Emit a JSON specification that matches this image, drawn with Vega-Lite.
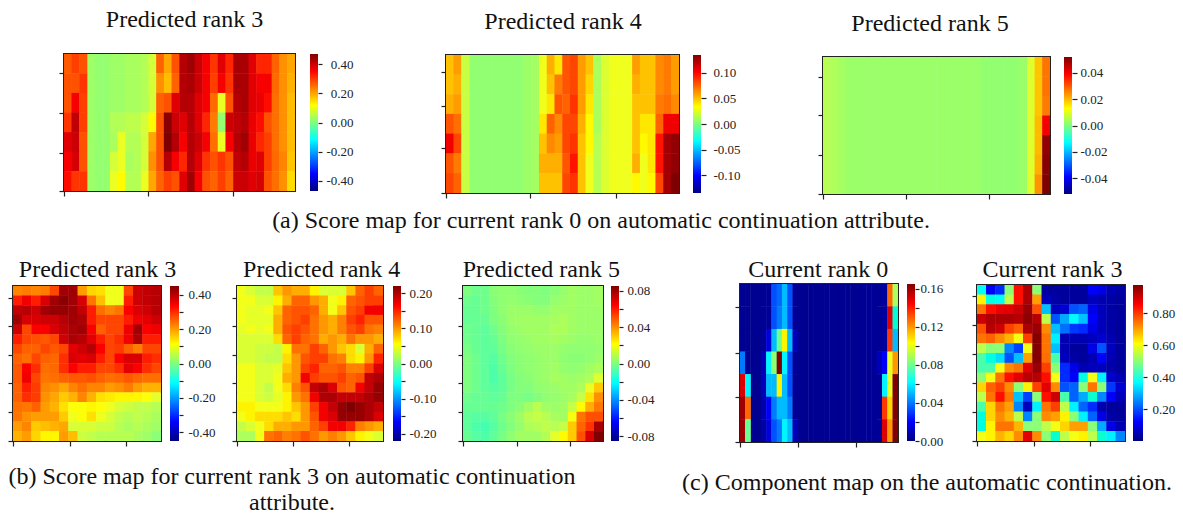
{"$schema":"https://vega.github.io/schema/vega-lite/v6.json","padding":0,"autosize":{"type":"pad"},"background":"white","bounds":"flush","spacing":0,"resolve":{"scale":{"color":"independent"}},"config":{"font":"Liberation Serif","view":{"stroke":null},"concat":{"spacing":0},"title":{"font":"Liberation Serif","fontSize":24,"fontWeight":"normal","color":"#111","baseline":"alphabetic"},"axis":{"labels":false,"grid":false,"domain":false,"title":null,"tickSize":5,"tickColor":"#222","tickWidth":1.2,"labelFont":"Liberation Serif","labelFontSize":13,"labelColor":"#222"}},
"datasets":{
"a1s":[{"x":3,"v":0.03},{"x":4,"v":0.02},{"x":5,"v":0.02}],
"a1":[
{"y":6,"x":0,"v":0.29},{"y":6,"x":1,"v":0.32},{"y":6,"x":2,"v":0.3},{"y":6,"x":6,"v":0.03},{"y":6,"x":7,"v":0.03},{"y":6,"x":8,"v":0.04},{"y":6,"x":9,"v":0.04},{"y":6,"x":10,"v":0.05},{"y":6,"x":11,"v":0.08},{"y":6,"x":12,"v":0.28},{"y":6,"x":13,"v":0.2},{"y":6,"x":14,"v":0.3},{"y":6,"x":15,"v":0.42},{"y":6,"x":16,"v":0.44},{"y":6,"x":17,"v":0.4},{"y":6,"x":18,"v":0.36},{"y":6,"x":19,"v":0.33},{"y":6,"x":20,"v":0.38},{"y":6,"x":21,"v":0.34},{"y":6,"x":22,"v":0.43},{"y":6,"x":23,"v":0.43},{"y":6,"x":24,"v":0.38},{"y":6,"x":25,"v":0.34},{"y":6,"x":26,"v":0.34},{"y":6,"x":27,"v":0.28},{"y":6,"x":28,"v":0.22},{"y":6,"x":29,"v":0.2},
{"y":5,"x":0,"v":0.3},{"y":5,"x":1,"v":0.3},{"y":5,"x":2,"v":0.33},{"y":5,"x":6,"v":0.03},{"y":5,"x":7,"v":0.03},{"y":5,"x":8,"v":0.04},{"y":5,"x":9,"v":0.04},{"y":5,"x":10,"v":0.05},{"y":5,"x":11,"v":0.08},{"y":5,"x":12,"v":0.22},{"y":5,"x":13,"v":0.18},{"y":5,"x":14,"v":0.28},{"y":5,"x":15,"v":0.42},{"y":5,"x":16,"v":0.43},{"y":5,"x":17,"v":0.4},{"y":5,"x":18,"v":0.36},{"y":5,"x":19,"v":0.32},{"y":5,"x":20,"v":0.36},{"y":5,"x":21,"v":0.33},{"y":5,"x":22,"v":0.43},{"y":5,"x":23,"v":0.43},{"y":5,"x":24,"v":0.38},{"y":5,"x":25,"v":0.36},{"y":5,"x":26,"v":0.36},{"y":5,"x":27,"v":0.27},{"y":5,"x":28,"v":0.22},{"y":5,"x":29,"v":0.19},
{"y":4,"x":0,"v":0.3},{"y":4,"x":1,"v":0.36},{"y":4,"x":2,"v":0.32},{"y":4,"x":6,"v":0.03},{"y":4,"x":7,"v":0.03},{"y":4,"x":8,"v":0.04},{"y":4,"x":9,"v":0.04},{"y":4,"x":10,"v":0.05},{"y":4,"x":11,"v":0.08},{"y":4,"x":12,"v":0.28},{"y":4,"x":13,"v":0.3},{"y":4,"x":14,"v":0.38},{"y":4,"x":15,"v":0.42},{"y":4,"x":16,"v":0.42},{"y":4,"x":17,"v":0.38},{"y":4,"x":18,"v":0.36},{"y":4,"x":19,"v":0.27},{"y":4,"x":20,"v":0.1},{"y":4,"x":21,"v":0.3},{"y":4,"x":22,"v":0.42},{"y":4,"x":23,"v":0.43},{"y":4,"x":24,"v":0.38},{"y":4,"x":25,"v":0.37},{"y":4,"x":26,"v":0.35},{"y":4,"x":27,"v":0.26},{"y":4,"x":28,"v":0.22},{"y":4,"x":29,"v":0.18},
{"y":3,"x":0,"v":0.33},{"y":3,"x":1,"v":0.41},{"y":3,"x":2,"v":0.32},{"y":3,"x":6,"v":0.05},{"y":3,"x":7,"v":0.05},{"y":3,"x":8,"v":0.06},{"y":3,"x":9,"v":0.06},{"y":3,"x":10,"v":0.08},{"y":3,"x":11,"v":0.12},{"y":3,"x":12,"v":0.3},{"y":3,"x":13,"v":0.46},{"y":3,"x":14,"v":0.4},{"y":3,"x":15,"v":0.38},{"y":3,"x":16,"v":0.42},{"y":3,"x":17,"v":0.38},{"y":3,"x":18,"v":0.34},{"y":3,"x":19,"v":0.24},{"y":3,"x":20,"v":0.02},{"y":3,"x":21,"v":0.4},{"y":3,"x":22,"v":0.41},{"y":3,"x":23,"v":0.42},{"y":3,"x":24,"v":0.37},{"y":3,"x":25,"v":0.35},{"y":3,"x":26,"v":0.3},{"y":3,"x":27,"v":0.26},{"y":3,"x":28,"v":0.22},{"y":3,"x":29,"v":0.18},
{"y":2,"x":0,"v":0.38},{"y":2,"x":1,"v":0.4},{"y":2,"x":2,"v":0.3},{"y":2,"x":6,"v":0.04},{"y":2,"x":7,"v":0.1},{"y":2,"x":8,"v":0.05},{"y":2,"x":9,"v":0.05},{"y":2,"x":10,"v":0.08},{"y":2,"x":11,"v":0.2},{"y":2,"x":12,"v":0.3},{"y":2,"x":13,"v":0.47},{"y":2,"x":14,"v":0.42},{"y":2,"x":15,"v":0.36},{"y":2,"x":16,"v":0.42},{"y":2,"x":17,"v":0.4},{"y":2,"x":18,"v":0.36},{"y":2,"x":19,"v":0.26},{"y":2,"x":20,"v":0.1},{"y":2,"x":21,"v":0.36},{"y":2,"x":22,"v":0.42},{"y":2,"x":23,"v":0.44},{"y":2,"x":24,"v":0.37},{"y":2,"x":25,"v":0.34},{"y":2,"x":26,"v":0.32},{"y":2,"x":27,"v":0.26},{"y":2,"x":28,"v":0.22},{"y":2,"x":29,"v":0.18},
{"y":1,"x":0,"v":0.36},{"y":1,"x":1,"v":0.39},{"y":1,"x":2,"v":0.3},{"y":1,"x":6,"v":0.08},{"y":1,"x":7,"v":0.1},{"y":1,"x":8,"v":0.04},{"y":1,"x":9,"v":0.05},{"y":1,"x":10,"v":0.08},{"y":1,"x":11,"v":0.22},{"y":1,"x":12,"v":0.3},{"y":1,"x":13,"v":0.42},{"y":1,"x":14,"v":0.36},{"y":1,"x":15,"v":0.34},{"y":1,"x":16,"v":0.42},{"y":1,"x":17,"v":0.38},{"y":1,"x":18,"v":0.33},{"y":1,"x":19,"v":0.3},{"y":1,"x":20,"v":0.33},{"y":1,"x":21,"v":0.3},{"y":1,"x":22,"v":0.41},{"y":1,"x":23,"v":0.42},{"y":1,"x":24,"v":0.37},{"y":1,"x":25,"v":0.38},{"y":1,"x":26,"v":0.32},{"y":1,"x":27,"v":0.27},{"y":1,"x":28,"v":0.23},{"y":1,"x":29,"v":0.17},
{"y":0,"x":0,"v":0.35},{"y":0,"x":1,"v":0.33},{"y":0,"x":2,"v":0.33},{"y":0,"x":6,"v":0.1},{"y":0,"x":7,"v":0.12},{"y":0,"x":8,"v":0.05},{"y":0,"x":9,"v":0.05},{"y":0,"x":10,"v":0.1},{"y":0,"x":11,"v":0.2},{"y":0,"x":12,"v":0.28},{"y":0,"x":13,"v":0.32},{"y":0,"x":14,"v":0.3},{"y":0,"x":15,"v":0.38},{"y":0,"x":16,"v":0.44},{"y":0,"x":17,"v":0.36},{"y":0,"x":18,"v":0.3},{"y":0,"x":19,"v":0.28},{"y":0,"x":20,"v":0.32},{"y":0,"x":21,"v":0.28},{"y":0,"x":22,"v":0.4},{"y":0,"x":23,"v":0.4},{"y":0,"x":24,"v":0.38},{"y":0,"x":25,"v":0.39},{"y":0,"x":26,"v":0.3},{"y":0,"x":27,"v":0.26},{"y":0,"x":28,"v":0.22},{"y":0,"x":29,"v":0.15}],
"a2s":[{"x":3,"v":0.005},{"x":4,"v":0.005},{"x":5,"v":0.005},{"x":6,"v":0.005},{"x":7,"v":0.005},{"x":8,"v":0.005},{"x":9,"v":0.005},{"x":10,"v":0.008},{"x":11,"v":0.01}],
"a2":[
{"y":6,"x":0,"v":0.05},{"y":6,"x":1,"v":0.06},{"y":6,"x":2,"v":0.02},{"y":6,"x":12,"v":0.03},{"y":6,"x":13,"v":0.055},{"y":6,"x":14,"v":0.04},{"y":6,"x":15,"v":0.085},{"y":6,"x":16,"v":0.09},{"y":6,"x":17,"v":0.06},{"y":6,"x":18,"v":0.05},{"y":6,"x":19,"v":0.012},{"y":6,"x":20,"v":0.025},{"y":6,"x":21,"v":0.03},{"y":6,"x":22,"v":0.03},{"y":6,"x":23,"v":0.03},{"y":6,"x":24,"v":0.06},{"y":6,"x":25,"v":0.05},{"y":6,"x":26,"v":0.05},{"y":6,"x":27,"v":0.065},{"y":6,"x":28,"v":0.07},{"y":6,"x":29,"v":0.06},
{"y":5,"x":0,"v":0.05},{"y":5,"x":1,"v":0.055},{"y":5,"x":2,"v":0.02},{"y":5,"x":12,"v":0.03},{"y":5,"x":13,"v":0.05},{"y":5,"x":14,"v":0.07},{"y":5,"x":15,"v":0.085},{"y":5,"x":16,"v":0.09},{"y":5,"x":17,"v":0.06},{"y":5,"x":18,"v":0.045},{"y":5,"x":19,"v":0.012},{"y":5,"x":20,"v":0.025},{"y":5,"x":21,"v":0.03},{"y":5,"x":22,"v":0.03},{"y":5,"x":23,"v":0.03},{"y":5,"x":24,"v":0.055},{"y":5,"x":25,"v":0.05},{"y":5,"x":26,"v":0.05},{"y":5,"x":27,"v":0.065},{"y":5,"x":28,"v":0.07},{"y":5,"x":29,"v":0.06},
{"y":4,"x":0,"v":0.055},{"y":4,"x":1,"v":0.06},{"y":4,"x":2,"v":0.02},{"y":4,"x":12,"v":0.03},{"y":4,"x":13,"v":0.04},{"y":4,"x":14,"v":0.085},{"y":4,"x":15,"v":0.08},{"y":4,"x":16,"v":0.095},{"y":4,"x":17,"v":0.06},{"y":4,"x":18,"v":0.04},{"y":4,"x":19,"v":0.012},{"y":4,"x":20,"v":0.025},{"y":4,"x":21,"v":0.03},{"y":4,"x":22,"v":0.03},{"y":4,"x":23,"v":0.03},{"y":4,"x":24,"v":0.05},{"y":4,"x":25,"v":0.05},{"y":4,"x":26,"v":0.05},{"y":4,"x":27,"v":0.07},{"y":4,"x":28,"v":0.075},{"y":4,"x":29,"v":0.065},
{"y":3,"x":0,"v":0.085},{"y":3,"x":1,"v":0.075},{"y":3,"x":2,"v":0.02},{"y":3,"x":12,"v":0.04},{"y":3,"x":13,"v":0.08},{"y":3,"x":14,"v":0.065},{"y":3,"x":15,"v":0.09},{"y":3,"x":16,"v":0.09},{"y":3,"x":17,"v":0.055},{"y":3,"x":18,"v":0.035},{"y":3,"x":19,"v":0.012},{"y":3,"x":20,"v":0.025},{"y":3,"x":21,"v":0.03},{"y":3,"x":22,"v":0.03},{"y":3,"x":23,"v":0.03},{"y":3,"x":24,"v":0.05},{"y":3,"x":25,"v":0.04},{"y":3,"x":26,"v":0.04},{"y":3,"x":27,"v":0.08},{"y":3,"x":28,"v":0.105},{"y":3,"x":29,"v":0.105},
{"y":2,"x":0,"v":0.105},{"y":2,"x":1,"v":0.09},{"y":2,"x":2,"v":0.02},{"y":2,"x":12,"v":0.05},{"y":2,"x":13,"v":0.065},{"y":2,"x":14,"v":0.06},{"y":2,"x":15,"v":0.09},{"y":2,"x":16,"v":0.095},{"y":2,"x":17,"v":0.05},{"y":2,"x":18,"v":0.035},{"y":2,"x":19,"v":0.015},{"y":2,"x":20,"v":0.025},{"y":2,"x":21,"v":0.03},{"y":2,"x":22,"v":0.03},{"y":2,"x":23,"v":0.03},{"y":2,"x":24,"v":0.05},{"y":2,"x":25,"v":0.035},{"y":2,"x":26,"v":0.04},{"y":2,"x":27,"v":0.1},{"y":2,"x":28,"v":0.125},{"y":2,"x":29,"v":0.13},
{"y":1,"x":0,"v":0.085},{"y":1,"x":1,"v":0.07},{"y":1,"x":2,"v":0.02},{"y":1,"x":12,"v":0.055},{"y":1,"x":13,"v":0.055},{"y":1,"x":14,"v":0.055},{"y":1,"x":15,"v":0.085},{"y":1,"x":16,"v":0.1},{"y":1,"x":17,"v":0.05},{"y":1,"x":18,"v":0.03},{"y":1,"x":19,"v":0.015},{"y":1,"x":20,"v":0.025},{"y":1,"x":21,"v":0.03},{"y":1,"x":22,"v":0.03},{"y":1,"x":23,"v":0.03},{"y":1,"x":24,"v":0.055},{"y":1,"x":25,"v":0.03},{"y":1,"x":26,"v":0.04},{"y":1,"x":27,"v":0.1},{"y":1,"x":28,"v":0.125},{"y":1,"x":29,"v":0.13},
{"y":0,"x":0,"v":0.09},{"y":0,"x":1,"v":0.08},{"y":0,"x":2,"v":0.02},{"y":0,"x":12,"v":0.05},{"y":0,"x":13,"v":0.05},{"y":0,"x":14,"v":0.05},{"y":0,"x":15,"v":0.09},{"y":0,"x":16,"v":0.095},{"y":0,"x":17,"v":0.05},{"y":0,"x":18,"v":0.03},{"y":0,"x":19,"v":0.015},{"y":0,"x":20,"v":0.025},{"y":0,"x":21,"v":0.03},{"y":0,"x":22,"v":0.03},{"y":0,"x":23,"v":0.03},{"y":0,"x":24,"v":0.035},{"y":0,"x":25,"v":0.03},{"y":0,"x":26,"v":0.035},{"y":0,"x":27,"v":0.09},{"y":0,"x":28,"v":0.125},{"y":0,"x":29,"v":0.135}],
"a3s":[{"x":0,"v":0.006},{"x":1,"v":0.005},{"x":2,"v":0.004},{"x":3,"v":0.003},{"x":4,"v":0.003},{"x":5,"v":0.003},{"x":6,"v":0.003},{"x":7,"v":0.003},{"x":8,"v":0.003},{"x":9,"v":0.003},{"x":10,"v":0.003},{"x":11,"v":0.003},{"x":12,"v":0.003},{"x":13,"v":0.003},{"x":14,"v":0.003},{"x":15,"v":0.003},{"x":16,"v":0.003},{"x":17,"v":0.003},{"x":18,"v":0.003},{"x":19,"v":0.003},{"x":20,"v":0.003},{"x":21,"v":0.002},{"x":22,"v":0.002},{"x":23,"v":0.002},{"x":24,"v":0.002},{"x":25,"v":0.002},{"x":26,"v":0.003},{"x":27,"v":0.01}],
"a3":[{"y":6,"x":28,"v":0.019},{"y":6,"x":29,"v":0.028},{"y":5,"x":28,"v":0.019},{"y":5,"x":29,"v":0.028},{"y":4,"x":28,"v":0.019},{"y":4,"x":29,"v":0.027},{"y":3,"x":28,"v":0.02},{"y":3,"x":29,"v":0.04},{"y":2,"x":28,"v":0.02},{"y":2,"x":29,"v":0.05},{"y":1,"x":28,"v":0.021},{"y":1,"x":29,"v":0.051},{"y":0,"x":28,"v":0.024},{"y":0,"x":29,"v":0.052}],
"b1":[
{"y":15,"x":0,"v":0.22},{"y":15,"x":1,"v":0.23},{"y":15,"x":2,"v":0.22},{"y":15,"x":3,"v":0.23},{"y":15,"x":4,"v":0.3},{"y":15,"x":5,"v":0.42},{"y":15,"x":6,"v":0.42},{"y":15,"x":7,"v":0.2},{"y":15,"x":8,"v":0.15},{"y":15,"x":9,"v":0.14},{"y":15,"x":10,"v":0.1},{"y":15,"x":11,"v":0.1},{"y":15,"x":12,"v":0.3},{"y":15,"x":13,"v":0.38},{"y":15,"x":14,"v":0.39},{"y":15,"x":15,"v":0.4},
{"y":14,"x":0,"v":0.33},{"y":14,"x":1,"v":0.35},{"y":14,"x":2,"v":0.33},{"y":14,"x":3,"v":0.37},{"y":14,"x":4,"v":0.42},{"y":14,"x":5,"v":0.44},{"y":14,"x":6,"v":0.42},{"y":14,"x":7,"v":0.37},{"y":14,"x":8,"v":0.24},{"y":14,"x":9,"v":0.17},{"y":14,"x":10,"v":0.1},{"y":14,"x":11,"v":0.1},{"y":14,"x":12,"v":0.33},{"y":14,"x":13,"v":0.38},{"y":14,"x":14,"v":0.39},{"y":14,"x":15,"v":0.4},
{"y":13,"x":0,"v":0.39},{"y":13,"x":1,"v":0.4},{"y":13,"x":2,"v":0.38},{"y":13,"x":3,"v":0.42},{"y":13,"x":4,"v":0.43},{"y":13,"x":5,"v":0.43},{"y":13,"x":6,"v":0.42},{"y":13,"x":7,"v":0.39},{"y":13,"x":8,"v":0.33},{"y":13,"x":9,"v":0.25},{"y":13,"x":10,"v":0.22},{"y":13,"x":11,"v":0.24},{"y":13,"x":12,"v":0.34},{"y":13,"x":13,"v":0.37},{"y":13,"x":14,"v":0.38},{"y":13,"x":15,"v":0.4},
{"y":12,"x":0,"v":0.42},{"y":12,"x":1,"v":0.37},{"y":12,"x":2,"v":0.37},{"y":12,"x":3,"v":0.38},{"y":12,"x":4,"v":0.38},{"y":12,"x":5,"v":0.4},{"y":12,"x":6,"v":0.42},{"y":12,"x":7,"v":0.41},{"y":12,"x":8,"v":0.33},{"y":12,"x":9,"v":0.3},{"y":12,"x":10,"v":0.3},{"y":12,"x":11,"v":0.3},{"y":12,"x":12,"v":0.33},{"y":12,"x":13,"v":0.35},{"y":12,"x":14,"v":0.36},{"y":12,"x":15,"v":0.38},
{"y":11,"x":0,"v":0.38},{"y":11,"x":1,"v":0.3},{"y":11,"x":2,"v":0.34},{"y":11,"x":3,"v":0.34},{"y":11,"x":4,"v":0.37},{"y":11,"x":5,"v":0.39},{"y":11,"x":6,"v":0.41},{"y":11,"x":7,"v":0.42},{"y":11,"x":8,"v":0.34},{"y":11,"x":9,"v":0.27},{"y":11,"x":10,"v":0.3},{"y":11,"x":11,"v":0.3},{"y":11,"x":12,"v":0.35},{"y":11,"x":13,"v":0.42},{"y":11,"x":14,"v":0.34},{"y":11,"x":15,"v":0.35},
{"y":10,"x":0,"v":0.33},{"y":10,"x":1,"v":0.3},{"y":10,"x":2,"v":0.29},{"y":10,"x":3,"v":0.28},{"y":10,"x":4,"v":0.3},{"y":10,"x":5,"v":0.38},{"y":10,"x":6,"v":0.41},{"y":10,"x":7,"v":0.4},{"y":10,"x":8,"v":0.36},{"y":10,"x":9,"v":0.33},{"y":10,"x":10,"v":0.3},{"y":10,"x":11,"v":0.32},{"y":10,"x":12,"v":0.35},{"y":10,"x":13,"v":0.41},{"y":10,"x":14,"v":0.33},{"y":10,"x":15,"v":0.33},
{"y":9,"x":0,"v":0.3},{"y":9,"x":1,"v":0.27},{"y":9,"x":2,"v":0.27},{"y":9,"x":3,"v":0.3},{"y":9,"x":4,"v":0.28},{"y":9,"x":5,"v":0.3},{"y":9,"x":6,"v":0.36},{"y":9,"x":7,"v":0.38},{"y":9,"x":8,"v":0.4},{"y":9,"x":9,"v":0.34},{"y":9,"x":10,"v":0.3},{"y":9,"x":11,"v":0.31},{"y":9,"x":12,"v":0.27},{"y":9,"x":13,"v":0.23},{"y":9,"x":14,"v":0.3},{"y":9,"x":15,"v":0.3},
{"y":8,"x":0,"v":0.27},{"y":8,"x":1,"v":0.25},{"y":8,"x":2,"v":0.3},{"y":8,"x":3,"v":0.27},{"y":8,"x":4,"v":0.26},{"y":8,"x":5,"v":0.32},{"y":8,"x":6,"v":0.37},{"y":8,"x":7,"v":0.36},{"y":8,"x":8,"v":0.37},{"y":8,"x":9,"v":0.33},{"y":8,"x":10,"v":0.3},{"y":8,"x":11,"v":0.34},{"y":8,"x":12,"v":0.37},{"y":8,"x":13,"v":0.37},{"y":8,"x":14,"v":0.33},{"y":8,"x":15,"v":0.32},
{"y":7,"x":0,"v":0.28},{"y":7,"x":1,"v":0.34},{"y":7,"x":2,"v":0.32},{"y":7,"x":3,"v":0.25},{"y":7,"x":4,"v":0.26},{"y":7,"x":5,"v":0.32},{"y":7,"x":6,"v":0.34},{"y":7,"x":7,"v":0.33},{"y":7,"x":8,"v":0.33},{"y":7,"x":9,"v":0.3},{"y":7,"x":10,"v":0.3},{"y":7,"x":11,"v":0.32},{"y":7,"x":12,"v":0.36},{"y":7,"x":13,"v":0.34},{"y":7,"x":14,"v":0.32},{"y":7,"x":15,"v":0.3},
{"y":6,"x":0,"v":0.28},{"y":6,"x":1,"v":0.35},{"y":6,"x":2,"v":0.3},{"y":6,"x":3,"v":0.24},{"y":6,"x":4,"v":0.25},{"y":6,"x":5,"v":0.27},{"y":6,"x":6,"v":0.28},{"y":6,"x":7,"v":0.28},{"y":6,"x":8,"v":0.29},{"y":6,"x":9,"v":0.27},{"y":6,"x":10,"v":0.25},{"y":6,"x":11,"v":0.26},{"y":6,"x":12,"v":0.28},{"y":6,"x":13,"v":0.26},{"y":6,"x":14,"v":0.25},{"y":6,"x":15,"v":0.25},
{"y":5,"x":0,"v":0.27},{"y":5,"x":1,"v":0.33},{"y":5,"x":2,"v":0.31},{"y":5,"x":3,"v":0.22},{"y":5,"x":4,"v":0.21},{"y":5,"x":5,"v":0.19},{"y":5,"x":6,"v":0.22},{"y":5,"x":7,"v":0.25},{"y":5,"x":8,"v":0.22},{"y":5,"x":9,"v":0.22},{"y":5,"x":10,"v":0.2},{"y":5,"x":11,"v":0.21},{"y":5,"x":12,"v":0.23},{"y":5,"x":13,"v":0.2},{"y":5,"x":14,"v":0.18},{"y":5,"x":15,"v":0.18},
{"y":4,"x":0,"v":0.27},{"y":4,"x":1,"v":0.32},{"y":4,"x":2,"v":0.31},{"y":4,"x":3,"v":0.21},{"y":4,"x":4,"v":0.19},{"y":4,"x":5,"v":0.16},{"y":4,"x":6,"v":0.18},{"y":4,"x":7,"v":0.22},{"y":4,"x":8,"v":0.18},{"y":4,"x":9,"v":0.14},{"y":4,"x":10,"v":0.13},{"y":4,"x":11,"v":0.12},{"y":4,"x":12,"v":0.12},{"y":4,"x":13,"v":0.12},{"y":4,"x":14,"v":0.11},{"y":4,"x":15,"v":0.09},
{"y":3,"x":0,"v":0.25},{"y":3,"x":1,"v":0.24},{"y":3,"x":2,"v":0.27},{"y":3,"x":3,"v":0.2},{"y":3,"x":4,"v":0.18},{"y":3,"x":5,"v":0.14},{"y":3,"x":6,"v":0.11},{"y":3,"x":7,"v":0.11},{"y":3,"x":8,"v":0.12},{"y":3,"x":9,"v":0.11},{"y":3,"x":10,"v":0.1},{"y":3,"x":11,"v":0.08},{"y":3,"x":12,"v":0.07},{"y":3,"x":13,"v":0.06},{"y":3,"x":14,"v":0.06},{"y":3,"x":15,"v":0.05},
{"y":2,"x":0,"v":0.24},{"y":2,"x":1,"v":0.21},{"y":2,"x":2,"v":0.2},{"y":2,"x":3,"v":0.2},{"y":2,"x":4,"v":0.2},{"y":2,"x":5,"v":0.16},{"y":2,"x":6,"v":0.1},{"y":2,"x":7,"v":0.11},{"y":2,"x":8,"v":0.14},{"y":2,"x":9,"v":0.1},{"y":2,"x":10,"v":0.08},{"y":2,"x":11,"v":0.06},{"y":2,"x":12,"v":0.05},{"y":2,"x":13,"v":0.06},{"y":2,"x":14,"v":0.05},{"y":2,"x":15,"v":0.04},
{"y":1,"x":0,"v":0.2},{"y":1,"x":1,"v":0.22},{"y":1,"x":2,"v":0.16},{"y":1,"x":3,"v":0.17},{"y":1,"x":4,"v":0.18},{"y":1,"x":5,"v":0.19},{"y":1,"x":6,"v":0.08},{"y":1,"x":7,"v":0.08},{"y":1,"x":8,"v":0.08},{"y":1,"x":9,"v":0.07},{"y":1,"x":10,"v":0.07},{"y":1,"x":11,"v":0.05},{"y":1,"x":12,"v":0.04},{"y":1,"x":13,"v":0.05},{"y":1,"x":14,"v":0.04},{"y":1,"x":15,"v":0.03},
{"y":0,"x":0,"v":0.18},{"y":0,"x":1,"v":0.2},{"y":0,"x":2,"v":0.15},{"y":0,"x":3,"v":0.12},{"y":0,"x":4,"v":0.12},{"y":0,"x":5,"v":0.2},{"y":0,"x":6,"v":0.17},{"y":0,"x":7,"v":0.07},{"y":0,"x":8,"v":0.06},{"y":0,"x":9,"v":0.05},{"y":0,"x":10,"v":0.05},{"y":0,"x":11,"v":0.05},{"y":0,"x":12,"v":0.05},{"y":0,"x":13,"v":0.04},{"y":0,"x":14,"v":0.03},{"y":0,"x":15,"v":0.01}],
"b2":[
{"y":15,"x":0,"v":0.05},{"y":15,"x":1,"v":0.04},{"y":15,"x":2,"v":0.03},{"y":15,"x":3,"v":0.03},{"y":15,"x":4,"v":0.08},{"y":15,"x":5,"v":0.1},{"y":15,"x":6,"v":0.09},{"y":15,"x":7,"v":0.09},{"y":15,"x":8,"v":0.06},{"y":15,"x":9,"v":0.04},{"y":15,"x":10,"v":0.04},{"y":15,"x":11,"v":0.04},{"y":15,"x":12,"v":0.08},{"y":15,"x":13,"v":0.13},{"y":15,"x":14,"v":0.15},{"y":15,"x":15,"v":0.13},
{"y":14,"x":0,"v":0.05},{"y":14,"x":1,"v":0.05},{"y":14,"x":2,"v":0.04},{"y":14,"x":3,"v":0.04},{"y":14,"x":4,"v":0.06},{"y":14,"x":5,"v":0.09},{"y":14,"x":6,"v":0.13},{"y":14,"x":7,"v":0.13},{"y":14,"x":8,"v":0.1},{"y":14,"x":9,"v":0.09},{"y":14,"x":10,"v":0.05},{"y":14,"x":11,"v":0.06},{"y":14,"x":12,"v":0.13},{"y":14,"x":13,"v":0.14},{"y":14,"x":14,"v":0.15},{"y":14,"x":15,"v":0.15},
{"y":13,"x":0,"v":0.05},{"y":13,"x":1,"v":0.045},{"y":13,"x":2,"v":0.045},{"y":13,"x":3,"v":0.05},{"y":13,"x":4,"v":0.08},{"y":13,"x":5,"v":0.13},{"y":13,"x":6,"v":0.14},{"y":13,"x":7,"v":0.14},{"y":13,"x":8,"v":0.13},{"y":13,"x":9,"v":0.09},{"y":13,"x":10,"v":0.05},{"y":13,"x":11,"v":0.08},{"y":13,"x":12,"v":0.14},{"y":13,"x":13,"v":0.15},{"y":13,"x":14,"v":0.17},{"y":13,"x":15,"v":0.17},
{"y":12,"x":0,"v":0.05},{"y":12,"x":1,"v":0.045},{"y":12,"x":2,"v":0.045},{"y":12,"x":3,"v":0.045},{"y":12,"x":4,"v":0.09},{"y":12,"x":5,"v":0.13},{"y":12,"x":6,"v":0.14},{"y":12,"x":7,"v":0.15},{"y":12,"x":8,"v":0.12},{"y":12,"x":9,"v":0.1},{"y":12,"x":10,"v":0.09},{"y":12,"x":11,"v":0.11},{"y":12,"x":12,"v":0.15},{"y":12,"x":13,"v":0.16},{"y":12,"x":14,"v":0.14},{"y":12,"x":15,"v":0.14},
{"y":11,"x":0,"v":0.045},{"y":11,"x":1,"v":0.05},{"y":11,"x":2,"v":0.045},{"y":11,"x":3,"v":0.05},{"y":11,"x":4,"v":0.09},{"y":11,"x":5,"v":0.14},{"y":11,"x":6,"v":0.15},{"y":11,"x":7,"v":0.14},{"y":11,"x":8,"v":0.12},{"y":11,"x":9,"v":0.1},{"y":11,"x":10,"v":0.09},{"y":11,"x":11,"v":0.11},{"y":11,"x":12,"v":0.14},{"y":11,"x":13,"v":0.15},{"y":11,"x":14,"v":0.12},{"y":11,"x":15,"v":0.11},
{"y":10,"x":0,"v":0.04},{"y":10,"x":1,"v":0.04},{"y":10,"x":2,"v":0.04},{"y":10,"x":3,"v":0.04},{"y":10,"x":4,"v":0.07},{"y":10,"x":5,"v":0.13},{"y":10,"x":6,"v":0.15},{"y":10,"x":7,"v":0.13},{"y":10,"x":8,"v":0.12},{"y":10,"x":9,"v":0.09},{"y":10,"x":10,"v":0.1},{"y":10,"x":11,"v":0.09},{"y":10,"x":12,"v":0.12},{"y":10,"x":13,"v":0.1},{"y":10,"x":14,"v":0.1},{"y":10,"x":15,"v":0.09},
{"y":9,"x":0,"v":0.04},{"y":9,"x":1,"v":0.04},{"y":9,"x":2,"v":0.035},{"y":9,"x":3,"v":0.035},{"y":9,"x":4,"v":0.03},{"y":9,"x":5,"v":0.06},{"y":9,"x":6,"v":0.12},{"y":9,"x":7,"v":0.12},{"y":9,"x":8,"v":0.15},{"y":9,"x":9,"v":0.13},{"y":9,"x":10,"v":0.1},{"y":9,"x":11,"v":0.08},{"y":9,"x":12,"v":0.07},{"y":9,"x":13,"v":0.04},{"y":9,"x":14,"v":0.09},{"y":9,"x":15,"v":0.13},
{"y":8,"x":0,"v":0.04},{"y":8,"x":1,"v":0.04},{"y":8,"x":2,"v":0.035},{"y":8,"x":3,"v":0.03},{"y":8,"x":4,"v":0.03},{"y":8,"x":5,"v":0.07},{"y":8,"x":6,"v":0.1},{"y":8,"x":7,"v":0.14},{"y":8,"x":8,"v":0.15},{"y":8,"x":9,"v":0.15},{"y":8,"x":10,"v":0.12},{"y":8,"x":11,"v":0.11},{"y":8,"x":12,"v":0.07},{"y":8,"x":13,"v":0.06},{"y":8,"x":14,"v":0.1},{"y":8,"x":15,"v":0.16},
{"y":7,"x":0,"v":0.05},{"y":7,"x":1,"v":0.05},{"y":7,"x":2,"v":0.04},{"y":7,"x":3,"v":0.04},{"y":7,"x":4,"v":0.045},{"y":7,"x":5,"v":0.08},{"y":7,"x":6,"v":0.1},{"y":7,"x":7,"v":0.15},{"y":7,"x":8,"v":0.16},{"y":7,"x":9,"v":0.13},{"y":7,"x":10,"v":0.13},{"y":7,"x":11,"v":0.14},{"y":7,"x":12,"v":0.11},{"y":7,"x":13,"v":0.11},{"y":7,"x":14,"v":0.15},{"y":7,"x":15,"v":0.18},
{"y":6,"x":0,"v":0.05},{"y":6,"x":1,"v":0.05},{"y":6,"x":2,"v":0.04},{"y":6,"x":3,"v":0.04},{"y":6,"x":4,"v":0.05},{"y":6,"x":5,"v":0.09},{"y":6,"x":6,"v":0.1},{"y":6,"x":7,"v":0.17},{"y":6,"x":8,"v":0.15},{"y":6,"x":9,"v":0.14},{"y":6,"x":10,"v":0.14},{"y":6,"x":11,"v":0.15},{"y":6,"x":12,"v":0.13},{"y":6,"x":13,"v":0.14},{"y":6,"x":14,"v":0.19},{"y":6,"x":15,"v":0.2},
{"y":5,"x":0,"v":0.05},{"y":5,"x":1,"v":0.05},{"y":5,"x":2,"v":0.04},{"y":5,"x":3,"v":0.03},{"y":5,"x":4,"v":0.05},{"y":5,"x":5,"v":0.07},{"y":5,"x":6,"v":0.11},{"y":5,"x":7,"v":0.14},{"y":5,"x":8,"v":0.19},{"y":5,"x":9,"v":0.2},{"y":5,"x":10,"v":0.18},{"y":5,"x":11,"v":0.14},{"y":5,"x":12,"v":0.13},{"y":5,"x":13,"v":0.17},{"y":5,"x":14,"v":0.19},{"y":5,"x":15,"v":0.21},
{"y":4,"x":0,"v":0.05},{"y":4,"x":1,"v":0.05},{"y":4,"x":2,"v":0.04},{"y":4,"x":3,"v":0.035},{"y":4,"x":4,"v":0.045},{"y":4,"x":5,"v":0.06},{"y":4,"x":6,"v":0.1},{"y":4,"x":7,"v":0.12},{"y":4,"x":8,"v":0.17},{"y":4,"x":9,"v":0.2},{"y":4,"x":10,"v":0.2},{"y":4,"x":11,"v":0.19},{"y":4,"x":12,"v":0.19},{"y":4,"x":13,"v":0.19},{"y":4,"x":14,"v":0.2},{"y":4,"x":15,"v":0.21},
{"y":3,"x":0,"v":0.06},{"y":3,"x":1,"v":0.06},{"y":3,"x":2,"v":0.05},{"y":3,"x":3,"v":0.05},{"y":3,"x":4,"v":0.05},{"y":3,"x":5,"v":0.06},{"y":3,"x":6,"v":0.08},{"y":3,"x":7,"v":0.1},{"y":3,"x":8,"v":0.15},{"y":3,"x":9,"v":0.17},{"y":3,"x":10,"v":0.19},{"y":3,"x":11,"v":0.21},{"y":3,"x":12,"v":0.22},{"y":3,"x":13,"v":0.21},{"y":3,"x":14,"v":0.2},{"y":3,"x":15,"v":0.19},
{"y":2,"x":0,"v":0.05},{"y":2,"x":1,"v":0.06},{"y":2,"x":2,"v":0.07},{"y":2,"x":3,"v":0.07},{"y":2,"x":4,"v":0.07},{"y":2,"x":5,"v":0.08},{"y":2,"x":6,"v":0.07},{"y":2,"x":7,"v":0.1},{"y":2,"x":8,"v":0.14},{"y":2,"x":9,"v":0.17},{"y":2,"x":10,"v":0.18},{"y":2,"x":11,"v":0.21},{"y":2,"x":12,"v":0.21},{"y":2,"x":13,"v":0.21},{"y":2,"x":14,"v":0.2},{"y":2,"x":15,"v":0.18},
{"y":1,"x":0,"v":0.03},{"y":1,"x":1,"v":0.04},{"y":1,"x":2,"v":0.05},{"y":1,"x":3,"v":0.07},{"y":1,"x":4,"v":0.09},{"y":1,"x":5,"v":0.09},{"y":1,"x":6,"v":0.1},{"y":1,"x":7,"v":0.1},{"y":1,"x":8,"v":0.13},{"y":1,"x":9,"v":0.15},{"y":1,"x":10,"v":0.17},{"y":1,"x":11,"v":0.17},{"y":1,"x":12,"v":0.16},{"y":1,"x":13,"v":0.11},{"y":1,"x":14,"v":0.1},{"y":1,"x":15,"v":0.09},
{"y":0,"x":0,"v":0.02},{"y":0,"x":1,"v":0.02},{"y":0,"x":2,"v":0.05},{"y":0,"x":3,"v":0.12},{"y":0,"x":4,"v":0.13},{"y":0,"x":5,"v":0.11},{"y":0,"x":6,"v":0.12},{"y":0,"x":7,"v":0.14},{"y":0,"x":8,"v":0.12},{"y":0,"x":9,"v":0.1},{"y":0,"x":10,"v":0.11},{"y":0,"x":11,"v":0.1},{"y":0,"x":12,"v":0.08},{"y":0,"x":13,"v":0.06},{"y":0,"x":14,"v":0.05},{"y":0,"x":15,"v":0.04}],
"b3":[
{"y":15,"x":0,"v":0},{"y":15,"x":1,"v":-0.002},{"y":15,"x":2,"v":-0.002},{"y":15,"x":3,"v":0.002},{"y":15,"x":4,"v":0.003},{"y":15,"x":5,"v":0.003},{"y":15,"x":6,"v":0.002},{"y":15,"x":7,"v":0.001},{"y":15,"x":8,"v":0.001},{"y":15,"x":9,"v":0},{"y":15,"x":10,"v":0.002},{"y":15,"x":11,"v":0.004},{"y":15,"x":12,"v":0.006},{"y":15,"x":13,"v":0.005},{"y":15,"x":14,"v":0.005},{"y":15,"x":15,"v":0.006},
{"y":14,"x":0,"v":-0.002},{"y":14,"x":1,"v":-0.003},{"y":14,"x":2,"v":-0.002},{"y":14,"x":3,"v":0.001},{"y":14,"x":4,"v":0.003},{"y":14,"x":5,"v":0.004},{"y":14,"x":6,"v":0.003},{"y":14,"x":7,"v":0.002},{"y":14,"x":8,"v":0.001},{"y":14,"x":9,"v":0.001},{"y":14,"x":10,"v":0.004},{"y":14,"x":11,"v":0.005},{"y":14,"x":12,"v":0.006},{"y":14,"x":13,"v":0.005},{"y":14,"x":14,"v":0.005},{"y":14,"x":15,"v":0.006},
{"y":13,"x":0,"v":-0.003},{"y":13,"x":1,"v":-0.003},{"y":13,"x":2,"v":-0.002},{"y":13,"x":3,"v":0},{"y":13,"x":4,"v":0.003},{"y":13,"x":5,"v":0.005},{"y":13,"x":6,"v":0.005},{"y":13,"x":7,"v":0.005},{"y":13,"x":8,"v":0.004},{"y":13,"x":9,"v":0.004},{"y":13,"x":10,"v":0.006},{"y":13,"x":11,"v":0.006},{"y":13,"x":12,"v":0.006},{"y":13,"x":13,"v":0.005},{"y":13,"x":14,"v":0.005},{"y":13,"x":15,"v":0.005},
{"y":12,"x":0,"v":-0.003},{"y":12,"x":1,"v":-0.003},{"y":12,"x":2,"v":-0.003},{"y":12,"x":3,"v":0},{"y":12,"x":4,"v":0.002},{"y":12,"x":5,"v":0.005},{"y":12,"x":6,"v":0.006},{"y":12,"x":7,"v":0.006},{"y":12,"x":8,"v":0.006},{"y":12,"x":9,"v":0.006},{"y":12,"x":10,"v":0.007},{"y":12,"x":11,"v":0.008},{"y":12,"x":12,"v":0.006},{"y":12,"x":13,"v":0.005},{"y":12,"x":14,"v":0.005},{"y":12,"x":15,"v":0.005},
{"y":11,"x":0,"v":-0.002},{"y":11,"x":1,"v":-0.003},{"y":11,"x":2,"v":-0.004},{"y":11,"x":3,"v":-0.002},{"y":11,"x":4,"v":0.001},{"y":11,"x":5,"v":0.004},{"y":11,"x":6,"v":0.005},{"y":11,"x":7,"v":0.006},{"y":11,"x":8,"v":0.006},{"y":11,"x":9,"v":0.006},{"y":11,"x":10,"v":0.008},{"y":11,"x":11,"v":0.008},{"y":11,"x":12,"v":0.006},{"y":11,"x":13,"v":0.005},{"y":11,"x":14,"v":0.005},{"y":11,"x":15,"v":0.005},
{"y":10,"x":0,"v":-0.002},{"y":10,"x":1,"v":-0.003},{"y":10,"x":2,"v":-0.004},{"y":10,"x":3,"v":-0.003},{"y":10,"x":4,"v":0},{"y":10,"x":5,"v":0.003},{"y":10,"x":6,"v":0.004},{"y":10,"x":7,"v":0.005},{"y":10,"x":8,"v":0.006},{"y":10,"x":9,"v":0.006},{"y":10,"x":10,"v":0.007},{"y":10,"x":11,"v":0.006},{"y":10,"x":12,"v":0.005},{"y":10,"x":13,"v":0.004},{"y":10,"x":14,"v":0.004},{"y":10,"x":15,"v":0.005},
{"y":9,"x":0,"v":-0.001},{"y":9,"x":1,"v":-0.003},{"y":9,"x":2,"v":-0.004},{"y":9,"x":3,"v":-0.004},{"y":9,"x":4,"v":-0.001},{"y":9,"x":5,"v":0.002},{"y":9,"x":6,"v":0.003},{"y":9,"x":7,"v":0.004},{"y":9,"x":8,"v":0.005},{"y":9,"x":9,"v":0.005},{"y":9,"x":10,"v":0.005},{"y":9,"x":11,"v":0.004},{"y":9,"x":12,"v":0.003},{"y":9,"x":13,"v":0.003},{"y":9,"x":14,"v":0.003},{"y":9,"x":15,"v":0.004},
{"y":8,"x":0,"v":0},{"y":8,"x":1,"v":-0.002},{"y":8,"x":2,"v":-0.004},{"y":8,"x":3,"v":-0.005},{"y":8,"x":4,"v":-0.002},{"y":8,"x":5,"v":0.001},{"y":8,"x":6,"v":0.002},{"y":8,"x":7,"v":0.003},{"y":8,"x":8,"v":0.004},{"y":8,"x":9,"v":0.005},{"y":8,"x":10,"v":0.005},{"y":8,"x":11,"v":0.003},{"y":8,"x":12,"v":0.002},{"y":8,"x":13,"v":0.002},{"y":8,"x":14,"v":0.003},{"y":8,"x":15,"v":0.005},
{"y":7,"x":0,"v":0},{"y":7,"x":1,"v":-0.002},{"y":7,"x":2,"v":-0.004},{"y":7,"x":3,"v":-0.006},{"y":7,"x":4,"v":-0.003},{"y":7,"x":5,"v":0},{"y":7,"x":6,"v":0.002},{"y":7,"x":7,"v":0.003},{"y":7,"x":8,"v":0.004},{"y":7,"x":9,"v":0.005},{"y":7,"x":10,"v":0.006},{"y":7,"x":11,"v":0.004},{"y":7,"x":12,"v":0.003},{"y":7,"x":13,"v":0.004},{"y":7,"x":14,"v":0.006},{"y":7,"x":15,"v":0.008},
{"y":6,"x":0,"v":0},{"y":6,"x":1,"v":-0.002},{"y":6,"x":2,"v":-0.004},{"y":6,"x":3,"v":-0.006},{"y":6,"x":4,"v":-0.004},{"y":6,"x":5,"v":-0.001},{"y":6,"x":6,"v":0.001},{"y":6,"x":7,"v":0.002},{"y":6,"x":8,"v":0.004},{"y":6,"x":9,"v":0.005},{"y":6,"x":10,"v":0.007},{"y":6,"x":11,"v":0.006},{"y":6,"x":12,"v":0.005},{"y":6,"x":13,"v":0.006},{"y":6,"x":14,"v":0.008},{"y":6,"x":15,"v":0.016},
{"y":5,"x":0,"v":0},{"y":5,"x":1,"v":-0.002},{"y":5,"x":2,"v":-0.004},{"y":5,"x":3,"v":-0.005},{"y":5,"x":4,"v":-0.004},{"y":5,"x":5,"v":-0.001},{"y":5,"x":6,"v":0.001},{"y":5,"x":7,"v":0.001},{"y":5,"x":8,"v":0.003},{"y":5,"x":9,"v":0.004},{"y":5,"x":10,"v":0.005},{"y":5,"x":11,"v":0.006},{"y":5,"x":12,"v":0.006},{"y":5,"x":13,"v":0.008},{"y":5,"x":14,"v":0.018},{"y":5,"x":15,"v":0.03},
{"y":4,"x":0,"v":-0.002},{"y":4,"x":1,"v":-0.003},{"y":4,"x":2,"v":-0.003},{"y":4,"x":3,"v":-0.004},{"y":4,"x":4,"v":-0.003},{"y":4,"x":5,"v":0},{"y":4,"x":6,"v":0},{"y":4,"x":7,"v":-0.001},{"y":4,"x":8,"v":0.001},{"y":4,"x":9,"v":0.003},{"y":4,"x":10,"v":0.004},{"y":4,"x":11,"v":0.005},{"y":4,"x":12,"v":0.007},{"y":4,"x":13,"v":0.012},{"y":4,"x":14,"v":0.026},{"y":4,"x":15,"v":0.04},
{"y":3,"x":0,"v":-0.003},{"y":3,"x":1,"v":-0.003},{"y":3,"x":2,"v":-0.003},{"y":3,"x":3,"v":-0.003},{"y":3,"x":4,"v":-0.002},{"y":3,"x":5,"v":0},{"y":3,"x":6,"v":0.002},{"y":3,"x":7,"v":0.006},{"y":3,"x":8,"v":0.01},{"y":3,"x":9,"v":0.006},{"y":3,"x":10,"v":0.005},{"y":3,"x":11,"v":0.006},{"y":3,"x":12,"v":0.012},{"y":3,"x":13,"v":0.022},{"y":3,"x":14,"v":0.035},{"y":3,"x":15,"v":0.045},
{"y":2,"x":0,"v":-0.004},{"y":2,"x":1,"v":-0.005},{"y":2,"x":2,"v":-0.005},{"y":2,"x":3,"v":-0.004},{"y":2,"x":4,"v":-0.001},{"y":2,"x":5,"v":0.002},{"y":2,"x":6,"v":0.005},{"y":2,"x":7,"v":0.01},{"y":2,"x":8,"v":0.012},{"y":2,"x":9,"v":0.01},{"y":2,"x":10,"v":0.007},{"y":2,"x":11,"v":0.006},{"y":2,"x":12,"v":0.02},{"y":2,"x":13,"v":0.046},{"y":2,"x":14,"v":0.055},{"y":2,"x":15,"v":0.055},
{"y":1,"x":0,"v":-0.004},{"y":1,"x":1,"v":-0.006},{"y":1,"x":2,"v":-0.007},{"y":1,"x":3,"v":-0.005},{"y":1,"x":4,"v":-0.002},{"y":1,"x":5,"v":0.001},{"y":1,"x":6,"v":0.004},{"y":1,"x":7,"v":0.008},{"y":1,"x":8,"v":0.009},{"y":1,"x":9,"v":0.011},{"y":1,"x":10,"v":0.01},{"y":1,"x":11,"v":0.012},{"y":1,"x":12,"v":0.03},{"y":1,"x":13,"v":0.05},{"y":1,"x":14,"v":0.06},{"y":1,"x":15,"v":0.078},
{"y":0,"x":0,"v":-0.003},{"y":0,"x":1,"v":-0.005},{"y":0,"x":2,"v":-0.006},{"y":0,"x":3,"v":-0.004},{"y":0,"x":4,"v":-0.001},{"y":0,"x":5,"v":0.003},{"y":0,"x":6,"v":0.006},{"y":0,"x":7,"v":0.006},{"y":0,"x":8,"v":0.006},{"y":0,"x":9,"v":0.009},{"y":0,"x":10,"v":0.017},{"y":0,"x":11,"v":0.022},{"y":0,"x":12,"v":0.03},{"y":0,"x":13,"v":0.055},{"y":0,"x":14,"v":0.07},{"y":0,"x":15,"v":0.085}],
"c1s":[{"x":2,"v":0.003},{"x":3,"v":0.003},{"x":11,"v":0.003},{"x":12,"v":0.003},{"x":13,"v":0.003},{"x":14,"v":0.003},{"x":15,"v":0.003},{"x":16,"v":0.003},{"x":17,"v":0.003},{"x":18,"v":0.003},{"x":19,"v":0.003},{"x":20,"v":0.003},{"x":21,"v":0.003},{"x":22,"v":0.003},{"x":23,"v":0.004},{"x":24,"v":0.004},{"x":25,"v":0.004}],
"c1":[
{"y":6,"x":0,"v":0.003},{"y":6,"x":1,"v":0.003},{"y":6,"x":4,"v":0.004},{"y":6,"x":5,"v":0.004},{"y":6,"x":6,"v":0.03},{"y":6,"x":7,"v":0.035},{"y":6,"x":8,"v":0.05},{"y":6,"x":9,"v":0.03},{"y":6,"x":10,"v":0.004},{"y":6,"x":26,"v":0.004},{"y":6,"x":27,"v":0.005},{"y":6,"x":28,"v":0.13},{"y":6,"x":29,"v":0.09},
{"y":5,"x":0,"v":0.003},{"y":5,"x":1,"v":0.003},{"y":5,"x":4,"v":0.004},{"y":5,"x":5,"v":0.004},{"y":5,"x":6,"v":0.03},{"y":5,"x":7,"v":0.04},{"y":5,"x":8,"v":0.05},{"y":5,"x":9,"v":0.03},{"y":5,"x":10,"v":0.004},{"y":5,"x":26,"v":0.004},{"y":5,"x":27,"v":0.005},{"y":5,"x":28,"v":0.15},{"y":5,"x":29,"v":0.07},
{"y":4,"x":0,"v":0.003},{"y":4,"x":1,"v":0.003},{"y":4,"x":4,"v":0.004},{"y":4,"x":5,"v":0.015},{"y":4,"x":6,"v":0.05},{"y":4,"x":7,"v":0.08},{"y":4,"x":8,"v":0.105},{"y":4,"x":9,"v":0.05},{"y":4,"x":10,"v":0.01},{"y":4,"x":26,"v":0.004},{"y":4,"x":27,"v":0.005},{"y":4,"x":28,"v":0.14},{"y":4,"x":29,"v":0.05},
{"y":3,"x":0,"v":0.04},{"y":3,"x":1,"v":0.003},{"y":3,"x":4,"v":0.01},{"y":3,"x":5,"v":0.06},{"y":3,"x":6,"v":0.085},{"y":3,"x":7,"v":0.165},{"y":3,"x":8,"v":0.06},{"y":3,"x":9,"v":0.03},{"y":3,"x":10,"v":0.004},{"y":3,"x":26,"v":0.01},{"y":3,"x":27,"v":0.02},{"y":3,"x":28,"v":0.1},{"y":3,"x":29,"v":0.12},
{"y":2,"x":0,"v":0.15},{"y":2,"x":1,"v":0.06},{"y":2,"x":4,"v":0.01},{"y":2,"x":5,"v":0.05},{"y":2,"x":6,"v":0.05},{"y":2,"x":7,"v":0.105},{"y":2,"x":8,"v":0.05},{"y":2,"x":9,"v":0.03},{"y":2,"x":10,"v":0.004},{"y":2,"x":26,"v":0.004},{"y":2,"x":27,"v":0.06},{"y":2,"x":28,"v":0.1},{"y":2,"x":29,"v":0.165},
{"y":1,"x":0,"v":0.16},{"y":1,"x":1,"v":0.13},{"y":1,"x":4,"v":0.008},{"y":1,"x":5,"v":0.02},{"y":1,"x":6,"v":0.04},{"y":1,"x":7,"v":0.05},{"y":1,"x":8,"v":0.05},{"y":1,"x":9,"v":0.04},{"y":1,"x":10,"v":0.004},{"y":1,"x":26,"v":0.004},{"y":1,"x":27,"v":0.14},{"y":1,"x":28,"v":0.11},{"y":1,"x":29,"v":0.165},
{"y":0,"x":0,"v":0.16},{"y":0,"x":1,"v":0.08},{"y":0,"x":4,"v":0.006},{"y":0,"x":5,"v":0.015},{"y":0,"x":6,"v":0.03},{"y":0,"x":7,"v":0.04},{"y":0,"x":8,"v":0.06},{"y":0,"x":9,"v":0.05},{"y":0,"x":10,"v":0.01},{"y":0,"x":26,"v":0.004},{"y":0,"x":27,"v":0.15},{"y":0,"x":28,"v":0.12},{"y":0,"x":29,"v":0.165}],
"c2":[
{"y":15,"x":0,"v":0.38},{"y":15,"x":1,"v":0.12},{"y":15,"x":2,"v":0.14},{"y":15,"x":3,"v":0.5},{"y":15,"x":4,"v":0.85},{"y":15,"x":5,"v":0.93},{"y":15,"x":6,"v":0.5},{"y":15,"x":7,"v":0.03},{"y":15,"x":8,"v":0.03},{"y":15,"x":9,"v":0.03},{"y":15,"x":10,"v":0.03},{"y":15,"x":11,"v":0.03},{"y":15,"x":12,"v":0.12},{"y":15,"x":13,"v":0.1},{"y":15,"x":14,"v":0.05},{"y":15,"x":15,"v":0.04},
{"y":14,"x":0,"v":0.62},{"y":14,"x":1,"v":0.4},{"y":14,"x":2,"v":0.38},{"y":14,"x":3,"v":0.55},{"y":14,"x":4,"v":0.85},{"y":14,"x":5,"v":0.93},{"y":14,"x":6,"v":0.7},{"y":14,"x":7,"v":0.06},{"y":14,"x":8,"v":0.04},{"y":14,"x":9,"v":0.03},{"y":14,"x":10,"v":0.03},{"y":14,"x":11,"v":0.03},{"y":14,"x":12,"v":0.06},{"y":14,"x":13,"v":0.05},{"y":14,"x":14,"v":0.04},{"y":14,"x":15,"v":0.03},
{"y":13,"x":0,"v":0.75},{"y":13,"x":1,"v":0.85},{"y":13,"x":2,"v":0.87},{"y":13,"x":3,"v":0.88},{"y":13,"x":4,"v":0.9},{"y":13,"x":5,"v":0.95},{"y":13,"x":6,"v":0.8},{"y":13,"x":7,"v":0.3},{"y":13,"x":8,"v":0.06},{"y":13,"x":9,"v":0.08},{"y":13,"x":10,"v":0.18},{"y":13,"x":11,"v":0.2},{"y":13,"x":12,"v":0.1},{"y":13,"x":13,"v":0.06},{"y":13,"x":14,"v":0.04},{"y":13,"x":15,"v":0.03},
{"y":12,"x":0,"v":0.9},{"y":12,"x":1,"v":0.93},{"y":12,"x":2,"v":0.93},{"y":12,"x":3,"v":0.93},{"y":12,"x":4,"v":0.92},{"y":12,"x":5,"v":0.96},{"y":12,"x":6,"v":0.92},{"y":12,"x":7,"v":0.55},{"y":12,"x":8,"v":0.18},{"y":12,"x":9,"v":0.28},{"y":12,"x":10,"v":0.36},{"y":12,"x":11,"v":0.3},{"y":12,"x":12,"v":0.12},{"y":12,"x":13,"v":0.06},{"y":12,"x":14,"v":0.04},{"y":12,"x":15,"v":0.03},
{"y":11,"x":0,"v":0.8},{"y":11,"x":1,"v":0.92},{"y":11,"x":2,"v":0.9},{"y":11,"x":3,"v":0.82},{"y":11,"x":4,"v":0.78},{"y":11,"x":5,"v":0.93},{"y":11,"x":6,"v":0.95},{"y":11,"x":7,"v":0.72},{"y":11,"x":8,"v":0.3},{"y":11,"x":9,"v":0.22},{"y":11,"x":10,"v":0.15},{"y":11,"x":11,"v":0.14},{"y":11,"x":12,"v":0.1},{"y":11,"x":13,"v":0.06},{"y":11,"x":14,"v":0.04},{"y":11,"x":15,"v":0.03},
{"y":10,"x":0,"v":0.75},{"y":10,"x":1,"v":0.78},{"y":10,"x":2,"v":0.72},{"y":10,"x":3,"v":0.68},{"y":10,"x":4,"v":0.6},{"y":10,"x":5,"v":0.82},{"y":10,"x":6,"v":0.97},{"y":10,"x":7,"v":0.75},{"y":10,"x":8,"v":0.35},{"y":10,"x":9,"v":0.05},{"y":10,"x":10,"v":0.05},{"y":10,"x":11,"v":0.05},{"y":10,"x":12,"v":0.06},{"y":10,"x":13,"v":0.08},{"y":10,"x":14,"v":0.05},{"y":10,"x":15,"v":0.03},
{"y":9,"x":0,"v":0.55},{"y":9,"x":1,"v":0.5},{"y":9,"x":2,"v":0.5},{"y":9,"x":3,"v":0.25},{"y":9,"x":4,"v":0.16},{"y":9,"x":5,"v":0.6},{"y":9,"x":6,"v":0.97},{"y":9,"x":7,"v":0.75},{"y":9,"x":8,"v":0.3},{"y":9,"x":9,"v":0.05},{"y":9,"x":10,"v":0.03},{"y":9,"x":11,"v":0.03},{"y":9,"x":12,"v":0.1},{"y":9,"x":13,"v":0.18},{"y":9,"x":14,"v":0.06},{"y":9,"x":15,"v":0.03},
{"y":8,"x":0,"v":0.45},{"y":8,"x":1,"v":0.4},{"y":8,"x":2,"v":0.33},{"y":8,"x":3,"v":0.18},{"y":8,"x":4,"v":0.3},{"y":8,"x":5,"v":0.7},{"y":8,"x":6,"v":0.97},{"y":8,"x":7,"v":0.76},{"y":8,"x":8,"v":0.45},{"y":8,"x":9,"v":0.06},{"y":8,"x":10,"v":0.04},{"y":8,"x":11,"v":0.03},{"y":8,"x":12,"v":0.05},{"y":8,"x":13,"v":0.12},{"y":8,"x":14,"v":0.05},{"y":8,"x":15,"v":0.03},
{"y":7,"x":0,"v":0.45},{"y":7,"x":1,"v":0.45},{"y":7,"x":2,"v":0.6},{"y":7,"x":3,"v":0.72},{"y":7,"x":4,"v":0.75},{"y":7,"x":5,"v":0.88},{"y":7,"x":6,"v":0.95},{"y":7,"x":7,"v":0.82},{"y":7,"x":8,"v":0.5},{"y":7,"x":9,"v":0.14},{"y":7,"x":10,"v":0.1},{"y":7,"x":11,"v":0.05},{"y":7,"x":12,"v":0.06},{"y":7,"x":13,"v":0.06},{"y":7,"x":14,"v":0.04},{"y":7,"x":15,"v":0.03},
{"y":6,"x":0,"v":0.5},{"y":6,"x":1,"v":0.6},{"y":6,"x":2,"v":0.75},{"y":6,"x":3,"v":0.85},{"y":6,"x":4,"v":0.88},{"y":6,"x":5,"v":0.92},{"y":6,"x":6,"v":0.92},{"y":6,"x":7,"v":0.85},{"y":6,"x":8,"v":0.6},{"y":6,"x":9,"v":0.14},{"y":6,"x":10,"v":0.12},{"y":6,"x":11,"v":0.4},{"y":6,"x":12,"v":0.6},{"y":6,"x":13,"v":0.35},{"y":6,"x":14,"v":0.08},{"y":6,"x":15,"v":0.05},
{"y":5,"x":0,"v":0.65},{"y":5,"x":1,"v":0.78},{"y":5,"x":2,"v":0.82},{"y":5,"x":3,"v":0.72},{"y":5,"x":4,"v":0.5},{"y":5,"x":5,"v":0.62},{"y":5,"x":6,"v":0.82},{"y":5,"x":7,"v":0.88},{"y":5,"x":8,"v":0.72},{"y":5,"x":9,"v":0.18},{"y":5,"x":10,"v":0.2},{"y":5,"x":11,"v":0.5},{"y":5,"x":12,"v":0.75},{"y":5,"x":13,"v":0.5},{"y":5,"x":14,"v":0.15},{"y":5,"x":15,"v":0.08},
{"y":4,"x":0,"v":0.55},{"y":4,"x":1,"v":0.75},{"y":4,"x":2,"v":0.85},{"y":4,"x":3,"v":0.75},{"y":4,"x":4,"v":0.3},{"y":4,"x":5,"v":0.16},{"y":4,"x":6,"v":0.5},{"y":4,"x":7,"v":0.85},{"y":4,"x":8,"v":0.9},{"y":4,"x":9,"v":0.45},{"y":4,"x":10,"v":0.2},{"y":4,"x":11,"v":0.28},{"y":4,"x":12,"v":0.42},{"y":4,"x":13,"v":0.25},{"y":4,"x":14,"v":0.12},{"y":4,"x":15,"v":0.06},
{"y":3,"x":0,"v":0.45},{"y":3,"x":1,"v":0.65},{"y":3,"x":2,"v":0.75},{"y":3,"x":3,"v":0.7},{"y":3,"x":4,"v":0.25},{"y":3,"x":5,"v":0.06},{"y":3,"x":6,"v":0.35},{"y":3,"x":7,"v":0.75},{"y":3,"x":8,"v":0.82},{"y":3,"x":9,"v":0.55},{"y":3,"x":10,"v":0.35},{"y":3,"x":11,"v":0.2},{"y":3,"x":12,"v":0.14},{"y":3,"x":13,"v":0.05},{"y":3,"x":14,"v":0.03},{"y":3,"x":15,"v":0.03},
{"y":2,"x":0,"v":0.4},{"y":2,"x":1,"v":0.65},{"y":2,"x":2,"v":0.72},{"y":2,"x":3,"v":0.68},{"y":2,"x":4,"v":0.55},{"y":2,"x":5,"v":0.25},{"y":2,"x":6,"v":0.5},{"y":2,"x":7,"v":0.72},{"y":2,"x":8,"v":0.7},{"y":2,"x":9,"v":0.62},{"y":2,"x":10,"v":0.5},{"y":2,"x":11,"v":0.35},{"y":2,"x":12,"v":0.2},{"y":2,"x":13,"v":0.1},{"y":2,"x":14,"v":0.04},{"y":2,"x":15,"v":0.03},
{"y":1,"x":0,"v":0.4},{"y":1,"x":1,"v":0.62},{"y":1,"x":2,"v":0.75},{"y":1,"x":3,"v":0.75},{"y":1,"x":4,"v":0.68},{"y":1,"x":5,"v":0.5},{"y":1,"x":6,"v":0.5},{"y":1,"x":7,"v":0.55},{"y":1,"x":8,"v":0.6},{"y":1,"x":9,"v":0.65},{"y":1,"x":10,"v":0.7},{"y":1,"x":11,"v":0.7},{"y":1,"x":12,"v":0.5},{"y":1,"x":13,"v":0.28},{"y":1,"x":14,"v":0.1},{"y":1,"x":15,"v":0.05},
{"y":0,"x":0,"v":0.6},{"y":0,"x":1,"v":0.62},{"y":0,"x":2,"v":0.68},{"y":0,"x":3,"v":0.65},{"y":0,"x":4,"v":0.72},{"y":0,"x":5,"v":0.88},{"y":0,"x":6,"v":0.72},{"y":0,"x":7,"v":0.5},{"y":0,"x":8,"v":0.42},{"y":0,"x":9,"v":0.55},{"y":0,"x":10,"v":0.6},{"y":0,"x":11,"v":0.62},{"y":0,"x":12,"v":0.55},{"y":0,"x":13,"v":0.42},{"y":0,"x":14,"v":0.35},{"y":0,"x":15,"v":0.25}]
},
"vconcat":[
{"width":1,"height":54,"data":{"values":[]},"mark":"rect","encoding":{}},
{"bounds":"flush","spacing":0,"hconcat":[
{"width":64,"height":1,"data":{"values":[]},"mark":"rect","encoding":{}},
{"width":231,"height":137,"view":{"stroke":"#222","strokeWidth":2},"title":{"text":"Predicted rank 3","dx":5,"offset":22},"encoding":{"x":{"field":"x","type":"quantitative","scale":{"domain":[-0.5,29.5],"nice":false,"zero":false},"axis":{"values":[-0.5,10.37,21.4]}},"color":{"field":"v","type":"quantitative","legend":null,"scale":{"domain":[-0.47,-0.3525,-0.235,-0.1175,0,0.1175,0.235,0.3525,0.47],"range":["#00007f","#0000ff","#007fff","#00ffff","#7fff7f","#ffff00","#ff7f00","#ff0000","#7f0000"]}}},"layer":[{"data":{"name":"a1s"},"mark":{"type":"rect","width":8.2,"clip":true}},{"data":{"name":"a1"},"mark":{"type":"rect","width":8.2,"height":20,"clip":true},"encoding":{"y":{"field":"y","type":"quantitative","scale":{"domain":[-0.5,6.5],"nice":false,"zero":false},"axis":{"values":[-0.5,1.46,3.5,5.54]}}}}]},
{"width":15,"height":1,"data":{"values":[]},"mark":"rect","encoding":{}},
{"width":8,"height":137,"data":{"values":[{"a":-0.47,"b":0.47}]},"mark":{"type":"rect","fill":{"gradient":"linear","x1":0,"y1":1,"x2":0,"y2":0,"stops":[{"offset":0,"color":"#00007f"},{"offset":0.125,"color":"#0000ff"},{"offset":0.25,"color":"#007fff"},{"offset":0.375,"color":"#00ffff"},{"offset":0.5,"color":"#7fff7f"},{"offset":0.625,"color":"#ffff00"},{"offset":0.75,"color":"#ff7f00"},{"offset":0.875,"color":"#ff0000"},{"offset":1,"color":"#7f0000"}]}},"encoding":{"y":{"field":"a","type":"quantitative","scale":{"domain":[-0.47,0.47],"nice":false,"zero":false},"axis":{"orient":"right","labels":true,"values":[-0.4,-0.2,0,0.2,0.4],"labelExpr":"(datum.value<0?'-':'')+format(abs(datum.value),'.2f')","tickSize":4,"labelAlign":"right","labelPadding":31}},"y2":{"field":"b"}}}
],"resolve":{"scale":{"color":"independent"}}},
{"width":1,"height":1,"data":{"values":[]},"mark":"rect","encoding":{}},
{"bounds":"flush","spacing":0,"resolve":{"scale":{"color":"independent"}},"hconcat":[
{"width":446,"height":1,"data":{"values":[]},"mark":"rect","encoding":{}},
{"width":233,"height":138,"view":{"stroke":"#222","strokeWidth":2},"title":{"text":"Predicted rank 4","dx":0.5,"offset":21},"encoding":{"x":{"field":"x","type":"quantitative","scale":{"domain":[-0.5,29.5],"nice":false,"zero":false},"axis":{"values":[-0.5,10.3,21.4]}},"color":{"field":"v","type":"quantitative","legend":null,"scale":{"domain":[-0.135,-0.10125,-0.0675,-0.03375,0,0.03375,0.0675,0.10125,0.135],"range":["#00007f","#0000ff","#007fff","#00ffff","#7fff7f","#ffff00","#ff7f00","#ff0000","#7f0000"]}}},"layer":[{"data":{"name":"a2s"},"mark":{"type":"rect","width":8.3,"clip":true}},{"data":{"name":"a2"},"mark":{"type":"rect","width":8.3,"height":20.2,"clip":true},"encoding":{"y":{"field":"y","type":"quantitative","scale":{"domain":[-0.5,6.5],"nice":false,"zero":false},"axis":{"values":[-0.5,1.8,3.91,5.62]}}}}]},
{"width":14,"height":1,"data":{"values":[]},"mark":"rect","encoding":{}},
{"width":8,"height":138,"data":{"values":[{"a":-0.135,"b":0.135}]},"mark":{"type":"rect","fill":{"gradient":"linear","x1":0,"y1":1,"x2":0,"y2":0,"stops":[{"offset":0,"color":"#00007f"},{"offset":0.125,"color":"#0000ff"},{"offset":0.25,"color":"#007fff"},{"offset":0.375,"color":"#00ffff"},{"offset":0.5,"color":"#7fff7f"},{"offset":0.625,"color":"#ffff00"},{"offset":0.75,"color":"#ff7f00"},{"offset":0.875,"color":"#ff0000"},{"offset":1,"color":"#7f0000"}]}},"encoding":{"y":{"field":"a","type":"quantitative","scale":{"domain":[-0.135,0.135],"nice":false,"zero":false},"axis":{"orient":"right","labels":true,"values":[-0.1,-0.05,0,0.05,0.1],"labelExpr":"(datum.value<0?'-':'')+format(abs(datum.value),'.2f')","tickSize":5,"labelPadding":7}},"y2":{"field":"b"}}}
]},
{"width":1,"height":2,"data":{"values":[]},"mark":"rect","encoding":{}},
{"bounds":"flush","spacing":0,"resolve":{"scale":{"color":"independent"}},"hconcat":[
{"width":823,"height":1,"data":{"values":[]},"mark":"rect","encoding":{}},
{"width":227,"height":137,"view":{"stroke":"#222","strokeWidth":2},"title":{"text":"Predicted rank 5","dx":-6.5,"offset":21.5},"encoding":{"x":{"field":"x","type":"quantitative","scale":{"domain":[-0.5,29.5],"nice":false,"zero":false},"axis":{"values":[-0.5,10.43,21.4]}},"color":{"field":"v","type":"quantitative","legend":null,"scale":{"domain":[-0.052,-0.039,-0.026,-0.013,0,0.013,0.026,0.039,0.052],"range":["#00007f","#0000ff","#007fff","#00ffff","#7fff7f","#ffff00","#ff7f00","#ff0000","#7f0000"]}}},"layer":[{"data":{"name":"a3s"},"mark":{"type":"rect","width":8.1,"clip":true}},{"data":{"name":"a3"},"mark":{"type":"rect","width":8.1,"height":20,"clip":true},"encoding":{"y":{"field":"y","type":"quantitative","scale":{"domain":[-0.5,6.5],"nice":false,"zero":false},"axis":{"values":[-0.5,1.5,3.54,5.48]}}}}]},
{"width":14,"height":1,"data":{"values":[]},"mark":"rect","encoding":{}},
{"width":8,"height":137,"data":{"values":[{"a":-0.052,"b":0.052}]},"mark":{"type":"rect","fill":{"gradient":"linear","x1":0,"y1":1,"x2":0,"y2":0,"stops":[{"offset":0,"color":"#00007f"},{"offset":0.125,"color":"#0000ff"},{"offset":0.25,"color":"#007fff"},{"offset":0.375,"color":"#00ffff"},{"offset":0.5,"color":"#7fff7f"},{"offset":0.625,"color":"#ffff00"},{"offset":0.75,"color":"#ff7f00"},{"offset":0.875,"color":"#ff0000"},{"offset":1,"color":"#7f0000"}]}},"encoding":{"y":{"field":"a","type":"quantitative","scale":{"domain":[-0.052,0.052],"nice":false,"zero":false},"axis":{"orient":"right","labels":true,"values":[-0.04,-0.02,0,0.02,0.04],"labelExpr":"(datum.value<0?'-':'')+format(abs(datum.value),'.2f')","tickSize":5,"labelPadding":3}},"y2":{"field":"b"}}}
]},
{"width":1183,"height":152,"title":{"text":"(a) Score map for current rank 0 on automatic continuation attribute.","dx":9.5,"offset":0,"orient":"bottom"},"data":{"values":[]},"mark":"rect","encoding":{}},
{"width":1,"height":75,"data":{"values":[]},"mark":"rect","encoding":{}},
{"bounds":"flush","spacing":0,"resolve":{"scale":{"color":"independent"}},"hconcat":[
{"width":740,"height":1,"data":{"values":[]},"mark":"rect","encoding":{}},
{"width":158,"height":158,"view":{"stroke":"#222","strokeWidth":2},"title":{"text":"Current rank 0","dx":-0.7,"offset":2},"encoding":{"x":{"field":"x","type":"quantitative","scale":{"domain":[-0.5,29.5],"nice":false,"zero":false},"axis":{"values":[-0.5,10.45,21.5]}},"color":{"field":"v","type":"quantitative","legend":null,"scale":{"domain":[0,0.020625,0.04125,0.061875,0.0825,0.103125,0.12375,0.144375,0.165],"range":["#00007f","#0000ff","#007fff","#00ffff","#7fff7f","#ffff00","#ff7f00","#ff0000","#7f0000"]}}},"layer":[{"data":{"name":"c1s"},"mark":{"type":"rect","width":5.7,"clip":true}},{"data":{"name":"c1"},"mark":{"type":"rect","width":5.7,"height":23,"clip":true},"encoding":{"y":{"field":"y","type":"quantitative","scale":{"domain":[-0.5,6.5],"nice":false,"zero":false},"axis":{"values":[-0.5,1.5,3.43,5.47]}}}}]},
{"width":9,"height":1,"data":{"values":[]},"mark":"rect","encoding":{}},
{"width":8,"height":157,"data":{"values":[{"a":0,"b":0.165}]},"mark":{"type":"rect","fill":{"gradient":"linear","x1":0,"y1":1,"x2":0,"y2":0,"stops":[{"offset":0,"color":"#00007f"},{"offset":0.125,"color":"#0000ff"},{"offset":0.25,"color":"#007fff"},{"offset":0.375,"color":"#00ffff"},{"offset":0.5,"color":"#7fff7f"},{"offset":0.625,"color":"#ffff00"},{"offset":0.75,"color":"#ff7f00"},{"offset":0.875,"color":"#ff0000"},{"offset":1,"color":"#7f0000"}]}},"encoding":{"y":{"field":"a","type":"quantitative","scale":{"domain":[0,0.165],"nice":false,"zero":false},"axis":{"orient":"right","labels":true,"values":[0,0.02,0.04,0.06,0.08,0.1,0.12,0.14,0.16],"labelExpr":"round(datum.value*50)%2==0?format(datum.value,'.2f'):''","tickSize":4,"labelPadding":1}},"y2":{"field":"b"}}}
]},
{"width":1,"height":1,"data":{"values":[]},"mark":"rect","encoding":{}},
{"bounds":"flush","spacing":0,"resolve":{"scale":{"color":"independent"}},"hconcat":[
{"width":977,"height":1,"data":{"values":[]},"mark":"rect","encoding":{}},
{"width":148,"height":156,"view":{"stroke":"#222","strokeWidth":2},"title":{"text":"Current rank 3","dx":1.5,"offset":3},"data":{"name":"c2"},"mark":{"type":"rect","width":9.7,"height":10.2,"clip":true},"encoding":{"x":{"field":"x","type":"quantitative","scale":{"domain":[-0.5,15.5],"nice":false,"zero":false},"axis":{"values":[-0.5,5.66,11.72]}},"y":{"field":"y","type":"quantitative","scale":{"domain":[-0.5,15.5],"nice":false,"zero":false},"axis":{"values":[-0.5,2.5,5.46,8.4,11.35,14.4]}},"color":{"field":"v","type":"quantitative","legend":null,"scale":{"domain":[0,0.121875,0.24375,0.365625,0.4875,0.609375,0.73125,0.853125,0.975],"range":["#00007f","#0000ff","#007fff","#00ffff","#7fff7f","#ffff00","#ff7f00","#ff0000","#7f0000"]}}}},
{"width":8,"height":1,"data":{"values":[]},"mark":"rect","encoding":{}},
{"width":10,"height":156,"data":{"values":[{"a":0,"b":0.975}]},"mark":{"type":"rect","fill":{"gradient":"linear","x1":0,"y1":1,"x2":0,"y2":0,"stops":[{"offset":0,"color":"#00007f"},{"offset":0.125,"color":"#0000ff"},{"offset":0.25,"color":"#007fff"},{"offset":0.375,"color":"#00ffff"},{"offset":0.5,"color":"#7fff7f"},{"offset":0.625,"color":"#ffff00"},{"offset":0.75,"color":"#ff7f00"},{"offset":0.875,"color":"#ff0000"},{"offset":1,"color":"#7f0000"}]}},"encoding":{"y":{"field":"a","type":"quantitative","scale":{"domain":[0,0.975],"nice":false,"zero":false},"axis":{"orient":"right","labels":true,"values":[0.2,0.4,0.6,0.8],"format":".2f","tickSize":4,"labelPadding":5}},"y2":{"field":"b"}}}
]},
{"width":1,"height":1,"data":{"values":[]},"mark":"rect","encoding":{}},
{"bounds":"flush","spacing":0,"resolve":{"scale":{"color":"independent"}},"hconcat":[
{"width":13,"height":1,"data":{"values":[]},"mark":"rect","encoding":{}},
{"width":148,"height":155,"view":{"stroke":"#222","strokeWidth":2},"title":{"text":"Predicted rank 3","dx":10.5,"offset":4},"data":{"name":"b1"},"mark":{"type":"rect","width":9.7,"height":10.1,"clip":true},"encoding":{"x":{"field":"x","type":"quantitative","scale":{"domain":[-0.5,15.5],"nice":false,"zero":false},"axis":{"values":[-0.5,5.63,11.75]}},"y":{"field":"y","type":"quantitative","scale":{"domain":[-0.5,15.5],"nice":false,"zero":false},"axis":{"values":[-0.5,2.5,5.46,8.4,11.35,14.3]}},"color":{"field":"v","type":"quantitative","legend":null,"scale":{"domain":[-0.45,-0.3375,-0.225,-0.1125,0,0.1125,0.225,0.3375,0.45],"range":["#00007f","#0000ff","#007fff","#00ffff","#7fff7f","#ffff00","#ff7f00","#ff0000","#7f0000"]}}}},
{"width":9,"height":1,"data":{"values":[]},"mark":"rect","encoding":{}},
{"width":9,"height":155,"data":{"values":[{"a":-0.45,"b":0.45}]},"mark":{"type":"rect","fill":{"gradient":"linear","x1":0,"y1":1,"x2":0,"y2":0,"stops":[{"offset":0,"color":"#00007f"},{"offset":0.125,"color":"#0000ff"},{"offset":0.25,"color":"#007fff"},{"offset":0.375,"color":"#00ffff"},{"offset":0.5,"color":"#7fff7f"},{"offset":0.625,"color":"#ffff00"},{"offset":0.75,"color":"#ff7f00"},{"offset":0.875,"color":"#ff0000"},{"offset":1,"color":"#7f0000"}]}},"encoding":{"y":{"field":"a","type":"quantitative","scale":{"domain":[-0.45,0.45],"nice":false,"zero":false},"axis":{"orient":"right","labels":true,"values":[-0.4,-0.3,-0.2,-0.1,0,0.1,0.2,0.3,0.4],"labelExpr":"round(datum.value*10)%2==0?(datum.value<0?'-':'')+format(abs(datum.value),'.2f'):''","tickSize":4,"labelPadding":5}},"y2":{"field":"b"}}},
{"width":58,"height":1,"data":{"values":[]},"mark":"rect","encoding":{}},
{"width":146,"height":155,"view":{"stroke":"#222","strokeWidth":2},"title":{"text":"Predicted rank 4","dx":11.7,"offset":4},"data":{"name":"b2"},"mark":{"type":"rect","width":9.6,"height":10.1,"clip":true},"encoding":{"x":{"field":"x","type":"quantitative","scale":{"domain":[-0.5,15.5],"nice":false,"zero":false},"axis":{"values":[-0.5,5.64,11.77]}},"y":{"field":"y","type":"quantitative","scale":{"domain":[-0.5,15.5],"nice":false,"zero":false},"axis":{"values":[-0.5,2.5,5.46,8.4,11.35,14.3]}},"color":{"field":"v","type":"quantitative","legend":null,"scale":{"domain":[-0.22,-0.165,-0.11,-0.055,0,0.055,0.11,0.165,0.22],"range":["#00007f","#0000ff","#007fff","#00ffff","#7fff7f","#ffff00","#ff7f00","#ff0000","#7f0000"]}}}},
{"width":10,"height":1,"data":{"values":[]},"mark":"rect","encoding":{}},
{"width":8,"height":155,"data":{"values":[{"a":-0.22,"b":0.22}]},"mark":{"type":"rect","fill":{"gradient":"linear","x1":0,"y1":1,"x2":0,"y2":0,"stops":[{"offset":0,"color":"#00007f"},{"offset":0.125,"color":"#0000ff"},{"offset":0.25,"color":"#007fff"},{"offset":0.375,"color":"#00ffff"},{"offset":0.5,"color":"#7fff7f"},{"offset":0.625,"color":"#ffff00"},{"offset":0.75,"color":"#ff7f00"},{"offset":0.875,"color":"#ff0000"},{"offset":1,"color":"#7f0000"}]}},"encoding":{"y":{"field":"a","type":"quantitative","scale":{"domain":[-0.22,0.22],"nice":false,"zero":false},"axis":{"orient":"right","labels":true,"values":[-0.2,-0.15,-0.1,-0.05,0,0.05,0.1,0.15,0.2],"labelExpr":"round(datum.value*20)%2==0?(datum.value<0?'-':'')+format(abs(datum.value),'.2f'):''","tickSize":4,"labelPadding":4}},"y2":{"field":"b"}}},
{"width":62,"height":1,"data":{"values":[]},"mark":"rect","encoding":{}},
{"width":140,"height":155,"view":{"stroke":"#222","strokeWidth":2},"title":{"text":"Predicted rank 5","dx":8.3,"offset":4},"data":{"name":"b3"},"mark":{"type":"rect","width":9.2,"height":10.1,"clip":true},"encoding":{"x":{"field":"x","type":"quantitative","scale":{"domain":[-0.5,15.5],"nice":false,"zero":false},"axis":{"values":[-0.5,5.64,11.73]}},"y":{"field":"y","type":"quantitative","scale":{"domain":[-0.5,15.5],"nice":false,"zero":false},"axis":{"values":[-0.5,2.5,5.46,8.4,11.35,14.3]}},"color":{"field":"v","type":"quantitative","legend":null,"scale":{"domain":[-0.085,-0.06375,-0.0425,-0.02125,0,0.02125,0.0425,0.06375,0.085],"range":["#00007f","#0000ff","#007fff","#00ffff","#7fff7f","#ffff00","#ff7f00","#ff0000","#7f0000"]}}}},
{"width":8,"height":1,"data":{"values":[]},"mark":"rect","encoding":{}},
{"width":8,"height":155,"data":{"values":[{"a":-0.085,"b":0.085}]},"mark":{"type":"rect","fill":{"gradient":"linear","x1":0,"y1":1,"x2":0,"y2":0,"stops":[{"offset":0,"color":"#00007f"},{"offset":0.125,"color":"#0000ff"},{"offset":0.25,"color":"#007fff"},{"offset":0.375,"color":"#00ffff"},{"offset":0.5,"color":"#7fff7f"},{"offset":0.625,"color":"#ffff00"},{"offset":0.75,"color":"#ff7f00"},{"offset":0.875,"color":"#ff0000"},{"offset":1,"color":"#7f0000"}]}},"encoding":{"y":{"field":"a","type":"quantitative","scale":{"domain":[-0.085,0.085],"nice":false,"zero":false},"axis":{"orient":"right","labels":true,"values":[-0.08,-0.06,-0.04,-0.02,0,0.02,0.04,0.06,0.08],"labelExpr":"round(datum.value*50)%2==0?(datum.value<0?'-':'')+format(abs(datum.value),'.2f'):''","tickSize":4,"labelPadding":4}},"y2":{"field":"b"}}}
]},
{"width":1183,"height":179,"title":{"text":["(b) Score map for current rank 3 on automatic continuation","attribute."],"dx":-299.5,"offset":0,"orient":"bottom","lineHeight":26},"data":{"values":[]},"mark":"rect","encoding":{}},
{"width":1183,"height":6,"title":{"text":"(c) Component map on the automatic continuation.","dx":335.5,"offset":0,"orient":"bottom"},"data":{"values":[]},"mark":"rect","encoding":{}}
]}
